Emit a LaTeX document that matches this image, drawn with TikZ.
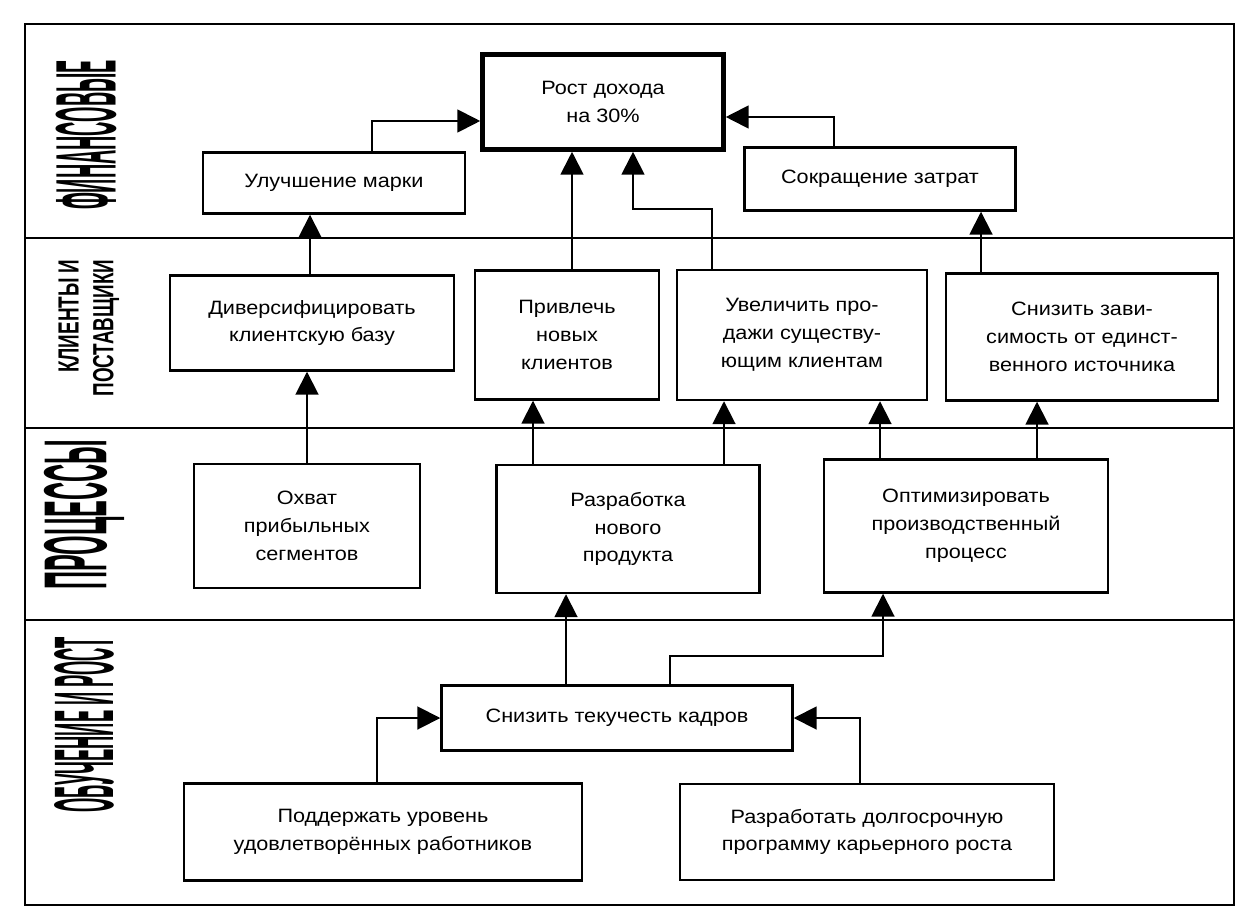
\documentclass[tikz,border=0pt]{standalone}
\usepackage{fontspec}
\usepackage{graphicx}
\setmainfont{Liberation Sans}
\newfontfamily\boxfont[FakeStretch=1.12]{Liberation Sans}
\usetikzlibrary{arrows.meta}

\tikzset{
  box/.style={draw, line width=1.4pt, inner sep=0pt, align=center,
    font=\boxfont\fontsize{11}{15.8}\selectfont},
  goal/.style={box, line width=2.6pt},
  wh/.style 2 args={minimum width=#1*0.02cm, minimum height=#2*0.02cm},
  link/.style={line width=1.1pt, -{Triangle[length=13pt,width=13pt]}},
  lane/.style={rotate=90, inner sep=0pt, font=\bfseries},
  rule/.style={line width=1.4pt},
}

\begin{document}
\begin{tikzpicture}[x=0.02cm, y=-0.02cm]
\useasboundingbox (0,0) rectangle (1244,922);

% Rahmen + Ebenen
\draw[rule] (25,24) rectangle (1234,905);
\draw[rule] (25,238) -- (1234,238);
\draw[rule] (25,428) -- (1234,428);
\draw[rule] (25,620) -- (1234,620);

% Beschriftung der Ebenen
\node[lane] (fin) at (86,135) {\resizebox{3cm}{1.2cm}{ФИНАНСОВЫЕ}};
\node[lane] (kli) at (89,328) {\resizebox*{2.74cm}{1.4cm}{\begin{tabular}{@{}r@{}}КЛИЕНТЫ И\\ПОСТАВЩИКИ\end{tabular}}};
\node[lane] (pro) at (84,515) {\resizebox{3cm}{1.25cm}{ПРОЦЕССЫ}};
\node[lane] (obu) at (84,725) {\resizebox{3.52cm}{1.18cm}{ОБУЧЕНИЕ И РОСТ}};

% Ziele
\node[goal, wh={241}{95}] (rost) at (603,102) {Рост дохода\\на 30\%};
\node[box, wh={262}{61}] (marke) at (334,183) {Улучшение марки};
\node[box, wh={271}{63}] (kosten) at (880,179) {Сокращение затрат};

\node[box, wh={284}{95}] (basis) at (312,323) {Диверсифицировать\\клиентскую базу};
\node[box, wh={184}{129}] (neukunden) at (567,335) {Привлечь\\новых\\клиентов};
\node[box, wh={250}{130}] (verkauf) at (802,335) {Увеличить про-\\дажи существу-\\ющим клиентам};
\node[box, wh={272}{127}] (quelle) at (1082,337) {Снизить зави-\\симость от единст-\\венного источника};

\node[box, wh={226}{124}] (segmente) at (307,526) {Охват\\прибыльных\\сегментов};
\node[box, wh={263}{128}] (produkt) at (628,529) {Разработка\\нового\\продукта};
\node[box, wh={284}{133}] (prozess) at (966,526) {Оптимизировать\\производственный\\процесс};

\node[box, wh={351}{65}] (fluktuation) at (617,718) {Снизить текучесть кадров};
\node[box, wh={398}{97}] (zufrieden) at (383,832) {Поддержать уровень\\удовлетворённых работников};
\node[box, wh={374}{96}] (karriere) at (867,832) {Разработать долгосрочную\\программу карьерного роста};

% Knickpunkte / Spalten der Pfeile
\coordinate (k1) at (372,121);
\coordinate (k2) at (834,117);
\coordinate (k3) at (712,209);
\coordinate (k4) at (633,209);
\coordinate (k5) at (670,656);
\coordinate (k6) at (883,656);
\coordinate (s1) at (310,0);
\coordinate (s2) at (572,0);
\coordinate (s3) at (981,0);
\coordinate (s4) at (307,0);
\coordinate (s5) at (533,0);
\coordinate (s6) at (724,0);
\coordinate (s7) at (880,0);
\coordinate (s8) at (1037,0);
\coordinate (s9) at (566,0);
\coordinate (s10) at (377,0);
\coordinate (s11) at (860,0);

% Finanzen
\draw[link] (k1 |- marke.north) -- (k1) -- (k1 -| rost.west);
\draw[link] (k2 |- kosten.north) -- (k2) -- (k2 -| rost.east);

% Kunden -> Finanzen
\draw[link] (s1 |- basis.north) -- (s1 |- marke.south);
\draw[link] (s2 |- neukunden.north) -- (s2 |- rost.south);
\draw[link] (k3 |- verkauf.north) -- (k3) -- (k4) -- (k4 |- rost.south);
\draw[link] (s3 |- quelle.north) -- (s3 |- kosten.south);

% Prozesse -> Kunden
\draw[link] (s4 |- segmente.north) -- (s4 |- basis.south);
\draw[link] (s5 |- produkt.north) -- (s5 |- neukunden.south);
\draw[link] (s6 |- produkt.north) -- (s6 |- verkauf.south);
\draw[link] (s7 |- prozess.north) -- (s7 |- verkauf.south);
\draw[link] (s8 |- prozess.north) -- (s8 |- quelle.south);

% Lernen -> Prozesse
\draw[link] (s9 |- fluktuation.north) -- (s9 |- produkt.south);
\draw[link] (k5 |- fluktuation.north) -- (k5) -- (k6) -- (k6 |- prozess.south);
\draw[link] (s10 |- zufrieden.north) |- (fluktuation.west);
\draw[link] (s11 |- karriere.north) |- (fluktuation.east);
\end{tikzpicture}
\end{document}
